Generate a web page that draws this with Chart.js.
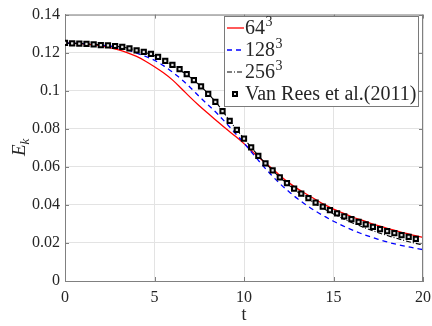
<!DOCTYPE html>
<html>
<head>
<meta charset="utf-8">
<script src="https://cdn.jsdelivr.net/npm/chart.js@4.4.1/dist/chart.umd.min.js"></script>
<style>
  html, body { margin: 0; padding: 0; background: #fff; }
  #wrap { width: 432px; height: 326px; }
</style>
</head>
<body>
<div id="wrap"><canvas id="ek"></canvas></div>
<script>
// Kinetic energy decay E_k(t), three grid resolutions + reference points
const T = [0, 0.5, 1, 1.5, 2, 2.5, 3, 3.5, 4, 4.5, 5, 5.5, 6, 6.5, 7, 7.5, 8, 8.5, 9, 9.5,
  10, 10.5, 11, 11.5, 12, 12.5, 13, 13.5, 14, 14.5, 15, 15.5, 16, 16.5, 17, 17.5, 18, 18.5, 19, 19.5, 20];

const E64 = [0.1250, 0.1249, 0.1246, 0.1242, 0.1236, 0.1227, 0.1215, 0.1199, 0.1180, 0.1155,
  0.1126, 0.1094, 0.1057, 0.1012, 0.0965, 0.0921, 0.0880, 0.0840, 0.0800, 0.0762,
  0.0722, 0.0677, 0.0636, 0.0596, 0.0555, 0.0517, 0.0484, 0.0456, 0.0428, 0.0401,
  0.0378, 0.0358, 0.0339, 0.0322, 0.0306, 0.0291, 0.0277, 0.0264, 0.0251, 0.0240, 0.0229];

const E128 = [0.1250, 0.1249, 0.1248, 0.1245, 0.1240, 0.1235, 0.1226, 0.1214, 0.1198, 0.1180,
  0.1160, 0.1132, 0.1098, 0.1060, 0.1017, 0.0970, 0.0925, 0.0880, 0.0830, 0.0778,
  0.0725, 0.0668, 0.0612, 0.0560, 0.0512, 0.0470, 0.0432, 0.0398, 0.0367, 0.0340,
  0.0314, 0.0291, 0.0270, 0.0251, 0.0234, 0.0219, 0.0205, 0.0193, 0.0183, 0.0173, 0.0165];

const E256 = [0.1250, 0.1249, 0.1248, 0.1245, 0.1241, 0.1237, 0.1232, 0.1224, 0.1213, 0.1200,
  0.1184, 0.1160, 0.1133, 0.1104, 0.1070, 0.1030, 0.0984, 0.0932, 0.0868, 0.0806,
  0.0748, 0.0692, 0.0638, 0.0590, 0.0546, 0.0505, 0.0468, 0.0435, 0.0405, 0.0378,
  0.0352, 0.0329, 0.0308, 0.0289, 0.0271, 0.0254, 0.0239, 0.0225, 0.0212, 0.0200, 0.0189];

const T_REF = [0, 0.4, 0.8, 1.2, 1.6, 2, 2.4, 2.8, 3.2, 3.6, 4, 4.4, 4.8, 5.2, 5.6, 6, 6.4, 6.8, 7.2, 7.6,
  8, 8.4, 8.8, 9.2, 9.6, 10, 10.4, 10.8, 11.2, 11.6, 12, 12.4, 12.8, 13.2, 13.6, 14, 14.4, 14.8,
  15.2, 15.6, 16, 16.4, 16.8, 17.2, 17.6, 18, 18.4, 18.8, 19.2, 19.6];

const E_REF = [0.1251, 0.1249, 0.1247, 0.1246, 0.1244, 0.1240, 0.1238, 0.1235, 0.1230, 0.1223,
  0.1212, 0.1204, 0.1194, 0.1178, 0.1157, 0.1136, 0.1113, 0.1087, 0.1056, 0.1023,
  0.0984, 0.0941, 0.0893, 0.0841, 0.0794, 0.0748, 0.0702, 0.0658, 0.0618, 0.0582,
  0.0545, 0.0514, 0.0485, 0.0459, 0.0436, 0.0412, 0.0391, 0.0372, 0.0356, 0.0340,
  0.0325, 0.0311, 0.0297, 0.0285, 0.0273, 0.0262, 0.0252, 0.0241, 0.0232, 0.0222];

const X_TICKS = [0, 5, 10, 15, 20];
const Y_TICKS = [0, 0.02, 0.04, 0.06, 0.08, 0.1, 0.12, 0.14];
const LABELS = ['64³', '128³', '256³', 'Van Rees et al.(2011)'];

const SERIF = "'Liberation Serif', 'Times New Roman', serif";
const INK = '#262626';
const AXIS = '#808080';

const pts = (xs, ys) => xs.map((x, i) => ({ x: x, y: ys[i] }));

function drawSquare(ctx, x, y) {
  ctx.save();
  ctx.fillStyle = '#e0e0e0';
  ctx.strokeStyle = '#000';
  ctx.lineWidth = 2;
  ctx.beginPath();
  ctx.rect(x - 2, y - 2, 4, 4);
  ctx.fill();
  ctx.stroke();
  ctx.restore();
}

// legend text; a trailing "³" is set as a raised small 3
function drawLabel(ctx, text, x, y) {
  const sup = text.endsWith('³');
  const base = sup ? text.slice(0, -1) : text;
  ctx.font = '20px ' + SERIF;
  ctx.fillText(base, x, y);
  if (sup) {
    const w = ctx.measureText(base).width;
    ctx.font = '14px ' + SERIF;
    ctx.fillText('3', x + w + 0.5, y - 7);
  }
}

// box, inward ticks, y label and the legend
const frame = {
  id: 'frame',
  afterDraw(chart) {
    const { ctx, chartArea: a, scales } = chart;
    ctx.save();
    ctx.strokeStyle = AXIS;
    ctx.lineWidth = 1;
    ctx.beginPath();
    ctx.moveTo(a.left, a.top + 0.5); ctx.lineTo(a.right, a.top + 0.5);
    ctx.moveTo(a.right - 0.5, a.top); ctx.lineTo(a.right - 0.5, a.bottom);
    X_TICKS.forEach(v => {
      const px = Math.round(scales.x.getPixelForValue(v)) + 0.5;
      ctx.moveTo(px, a.bottom); ctx.lineTo(px, a.bottom - 4);
      ctx.moveTo(px, a.top); ctx.lineTo(px, a.top + 4);
    });
    Y_TICKS.forEach(v => {
      const py = Math.round(scales.y.getPixelForValue(v)) + 0.5;
      ctx.moveTo(a.left, py); ctx.lineTo(a.left + 4, py);
      ctx.moveTo(a.right, py); ctx.lineTo(a.right - 4, py);
    });
    ctx.stroke();

    // E_k, rotated
    ctx.fillStyle = INK;
    ctx.translate(25, 150);
    ctx.rotate(-Math.PI / 2);
    ctx.textBaseline = 'alphabetic';
    ctx.textAlign = 'left';
    ctx.font = 'italic 19px ' + SERIF;
    const w = ctx.measureText('E').width;
    ctx.fillText('E', -6, 0);
    ctx.font = 'italic 13px ' + SERIF;
    ctx.fillText('k', -6 + w, 4);
    ctx.restore();

    // legend
    const box = { x: 224.5, y: 16.5, w: 194, h: 90 };
    ctx.save();
    ctx.fillStyle = '#fff';
    ctx.strokeStyle = '#7a7a7a';
    ctx.lineWidth = 1;
    ctx.fillRect(box.x, box.y, box.w, box.h);
    ctx.strokeRect(box.x, box.y, box.w, box.h);
    ctx.textBaseline = 'middle';
    chart.data.datasets.forEach((ds, i) => {
      const cy = 28 + i * 22;
      if (ds.showLine === false) {
        drawSquare(ctx, 235, cy);
      } else {
        ctx.save();
        ctx.strokeStyle = ds.borderColor;
        ctx.lineWidth = ds.borderWidth;
        ctx.setLineDash(ds.borderDash || []);
        ctx.beginPath();
        ctx.moveTo(227, cy); ctx.lineTo(244, cy);
        ctx.stroke();
        ctx.restore();
      }
      ctx.fillStyle = INK;
      drawLabel(ctx, ds.label, 245, cy + 1);
    });
    ctx.restore();
  }
};

const tickFont = { family: SERIF, size: 16 };

new Chart(document.getElementById('ek'), {
  type: 'scatter',
  data: {
    datasets: [
      { label: LABELS[0], data: pts(T, E64), showLine: true, borderColor: '#ff0000', borderWidth: 1.3,
        pointRadius: 0, cubicInterpolationMode: 'monotone', order: 3 },
      { label: LABELS[1], data: pts(T, E128), showLine: true, borderColor: '#0000ff', borderWidth: 1.3,
        borderDash: [5, 4], pointRadius: 0, cubicInterpolationMode: 'monotone', order: 2 },
      { label: LABELS[2], data: pts(T, E256), showLine: true, borderColor: '#000000', borderWidth: 1.1,
        borderDash: [5, 2, 1, 2], pointRadius: 0, cubicInterpolationMode: 'monotone', order: 1 },
      { label: LABELS[3], data: pts(T_REF, E_REF), showLine: false, pointStyle: 'rect', pointRadius: 3,
        borderColor: '#000000', borderWidth: 2, backgroundColor: '#e0e0e0', order: 0 },
    ],
  },
  options: {
    responsive: true, maintainAspectRatio: false, animation: false,
    layout: { padding: { top: 13, right: 9, left: 0, bottom: 0 } },
    plugins: { legend: { display: false }, tooltip: { enabled: false } },
    scales: {
      x: {
        type: 'linear', min: 0, max: 20,
        afterBuildTicks: s => { s.ticks = X_TICKS.map(v => ({ value: v })); },
        afterFit: s => { s.height = 45; s.paddingLeft = 0; s.paddingRight = 0; },
        grid: { color: '#e3e3e3', drawTicks: false },
        border: { color: AXIS },
        ticks: { font: tickFont, color: INK, padding: 7, maxRotation: 0 },
        title: { display: true, text: 't', font: { family: SERIF, size: 18 }, color: INK, padding: { top: 0, bottom: 0 } },
      },
      y: {
        type: 'linear', min: 0, max: 0.14,
        afterBuildTicks: s => { s.ticks = Y_TICKS.map(v => ({ value: v })); },
        afterFit: s => { s.width = 65; },
        grid: { color: '#e3e3e3', drawTicks: false },
        border: { color: AXIS },
        ticks: { font: tickFont, color: INK, padding: 5, callback: v => String(v) },
      },
    },
  },
  plugins: [frame],
});
</script>
</body>
</html>
